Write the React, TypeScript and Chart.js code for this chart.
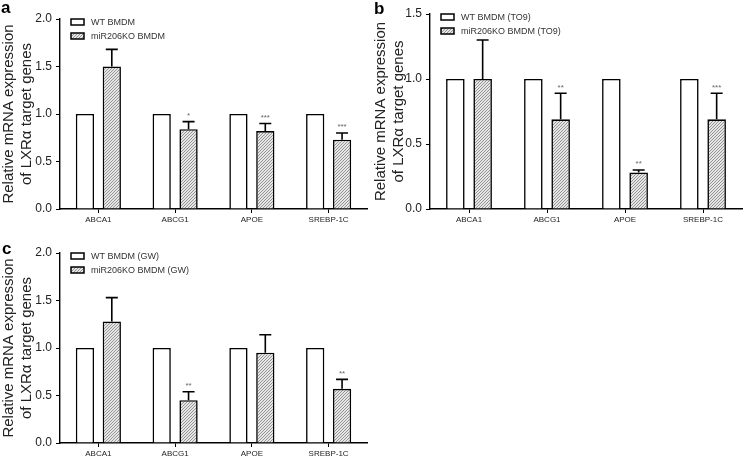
import React, { useEffect, useRef } from 'react';
import { Chart, registerables } from 'chart.js';

Chart.register(...registerables);

const FONT = "'Liberation Sans', Arial, Helvetica, sans-serif";
Chart.defaults.font.family = FONT;

// ---------- data ----------
const categories = ['ABCA1', 'ABCG1', 'APOE', 'SREBP-1C'];
const yTitle = ['Relative mRNA expression', 'of LXRα target genes'];

// panel a
const labelsA = ['WT BMDM', 'miR206KO BMDM'];
const wtA = [1.0, 1.0, 1.0, 1.0];
const koA = [1.5, 0.84, 0.82, 0.73];
const semA = [0.18, 0.08, 0.08, 0.07];
const sigA = ['', '*', '***', '***'];
const yMaxA = 2.0;

// panel b
const labelsB = ['WT BMDM (TO9)', 'miR206KO BMDM (TO9)'];
const wtB = [1.0, 1.0, 1.0, 1.0];
const koB = [1.0, 0.69, 0.28, 0.69];
const semB = [0.3, 0.2, 0.02, 0.2];
const sigB = ['', '**', '**', '***'];
const yMaxB = 1.5;

// panel c
const labelsC = ['WT BMDM (GW)', 'miR206KO BMDM (GW)'];
const wtC = [1.0, 1.0, 1.0, 1.0];
const koC = [1.28, 0.45, 0.95, 0.57];
const semC = [0.25, 0.09, 0.19, 0.1];
const sigC = ['', '**', '', '**'];
const yMaxC = 2.0;

type PanelProps = {
  left: number;
  top: number;
  width: number;
  height: number;
  padTop: number;
  padRight: number;
  yAxisW: number;
  xAxisH: number;
  letter: string;
  letterLeft: number;
  letterTop: number;
  labels: string[];
  wt: number[];
  ko: number[];
  sem: number[];
  sig: string[];
  yMax: number;
};

function makeHatch(): CanvasPattern | string {
  const c = document.createElement('canvas');
  c.width = 3;
  c.height = 3;
  const g = c.getContext('2d');
  if (!g) return '#bbb';
  g.fillStyle = '#e6e6e6';
  g.fillRect(0, 0, 3, 3);
  g.strokeStyle = '#8a8a8a';
  g.lineWidth = 0.9;
  g.beginPath();
  g.moveTo(0, 3);
  g.lineTo(3, 0);
  g.moveTo(-1, 1);
  g.lineTo(1, -1);
  g.moveTo(2, 4);
  g.lineTo(4, 2);
  g.stroke();
  return g.createPattern(c, 'repeat') || '#bbb';
}

function Panel(p: PanelProps) {
  const ref = useRef<HTMLCanvasElement | null>(null);
  useEffect(() => {
    if (!ref.current) return;
    const hatch = makeHatch();

    const errorPlugin = {
      id: 'errorBars',
      afterDatasetsDraw(chart: any) {
        const { ctx } = chart;
        const yScale = chart.scales.y;
        const meta = chart.getDatasetMeta(1);
        ctx.save();
        meta.data.forEach((bar: any, i: number) => {
          const yTop = yScale.getPixelForValue(p.ko[i] + p.sem[i]);
          const yBar = bar.y;
          const x = bar.x;
          ctx.strokeStyle = '#000';
          ctx.lineWidth = 1.6;
          ctx.beginPath();
          ctx.moveTo(x, yBar);
          ctx.lineTo(x, yTop);
          ctx.moveTo(x - 6, yTop);
          ctx.lineTo(x + 6, yTop);
          ctx.stroke();
          if (p.sig[i]) {
            ctx.fillStyle = '#666';
            ctx.font = `8px ${FONT}`;
            ctx.textAlign = 'center';
            ctx.textBaseline = 'middle';
            ctx.fillText(p.sig[i], x, yTop - 6);
          }
        });
        ctx.restore();
      },
    };

    const legendPlugin = {
      id: 'boxLegend',
      afterDraw(chart: any) {
        const { ctx, chartArea } = chart;
        const x0 = chartArea.left + 11;
        const y0 = chartArea.top;
        chart.data.datasets.forEach((ds: any, i: number) => {
          const y = y0 + i * 14;
          ctx.save();
          ctx.fillStyle = ds.backgroundColor;
          ctx.fillRect(x0, y, 13, 6);
          ctx.strokeStyle = '#000';
          ctx.lineWidth = 1.5;
          ctx.strokeRect(x0, y, 13, 6);
          ctx.fillStyle = '#333';
          ctx.font = `9px ${FONT}`;
          ctx.textAlign = 'left';
          ctx.textBaseline = 'middle';
          ctx.fillText(ds.label, x0 + 20, y + 3.5);
          ctx.restore();
        });
      },
    };

    const chart = new Chart(ref.current, {
      type: 'bar',
      data: {
        labels: categories,
        datasets: [
          {
            label: p.labels[0],
            data: p.wt,
            backgroundColor: '#ffffff',
            borderColor: '#000',
            borderWidth: 1.6,
          },
          {
            label: p.labels[1],
            data: p.ko,
            backgroundColor: hatch as any,
            borderColor: '#000',
            borderWidth: 1.6,
          },
        ],
      },
      options: {
        responsive: false,
        maintainAspectRatio: false,
        animation: false,
        events: [],
        layout: { padding: { top: p.padTop, right: p.padRight, left: 0, bottom: 0 } },
        datasets: { bar: { categoryPercentage: 0.7, barPercentage: 0.68 } },
        plugins: { legend: { display: false }, tooltip: { enabled: false }, title: { display: false } },
        scales: {
          x: {
            offset: true,
            grid: { display: true, drawOnChartArea: false, offset: false, tickLength: 4, color: '#000', lineWidth: 1 },
            border: { display: true, color: '#000', width: 1.4 },
            ticks: { font: { size: 8 }, color: '#222', padding: 2, maxRotation: 0, autoSkip: false },
            afterFit: (s: any) => {
              s.height = p.xAxisH;
            },
          },
          y: {
            min: 0,
            max: p.yMax,
            grid: { display: true, drawOnChartArea: false, tickLength: 4, color: '#000', lineWidth: 1 },
            border: { display: true, color: '#000', width: 1.4 },
            ticks: {
              stepSize: 0.5,
              font: { size: 12 },
              color: '#222',
              padding: 4,
              callback: (v: any) => Number(v).toFixed(1),
            },
            title: {
              display: true,
              text: yTitle,
              font: { size: 15, lineHeight: '18px' },
              color: '#222',
              padding: { top: 0, bottom: 0 },
            },
            afterFit: (s: any) => {
              s.width = p.yAxisW;
            },
          },
        },
      },
      plugins: [errorPlugin, legendPlugin],
    });
    return () => chart.destroy();
  }, []);

  return (
    <div style={{ position: 'absolute', left: p.left, top: p.top, width: p.width, height: p.height }}>
      <canvas ref={ref} width={p.width} height={p.height} style={{ display: 'block' }} />
      <div
        style={{
          position: 'absolute',
          left: p.letterLeft,
          top: p.letterTop,
          font: `bold 17px ${FONT}`,
          lineHeight: '17px',
          color: '#000',
        }}
      >
        {p.letter}
      </div>
    </div>
  );
}

export default function App() {
  return (
    <div style={{ position: 'absolute', left: 0, top: 0, width: 744, height: 458, background: '#fff', overflow: 'hidden' }}>
      <Panel
        left={0} top={0} width={372} height={229}
        padTop={19} padRight={5} yAxisW={60} xAxisH={20}
        letter="a" letterLeft={1} letterTop={-1}
        labels={labelsA} wt={wtA} ko={koA} sem={semA} sig={sigA} yMax={yMaxA}
      />
      <Panel
        left={372} top={0} width={372} height={229}
        padTop={14} padRight={2} yAxisW={58} xAxisH={20}
        letter="b" letterLeft={2} letterTop={0}
        labels={labelsB} wt={wtB} ko={koB} sem={semB} sig={sigB} yMax={yMaxB}
      />
      <Panel
        left={0} top={229} width={372} height={229}
        padTop={24} padRight={5} yAxisW={60} xAxisH={15}
        letter="c" letterLeft={2} letterTop={11}
        labels={labelsC} wt={wtC} ko={koC} sem={semC} sig={sigC} yMax={yMaxC}
      />
    </div>
  );
}
